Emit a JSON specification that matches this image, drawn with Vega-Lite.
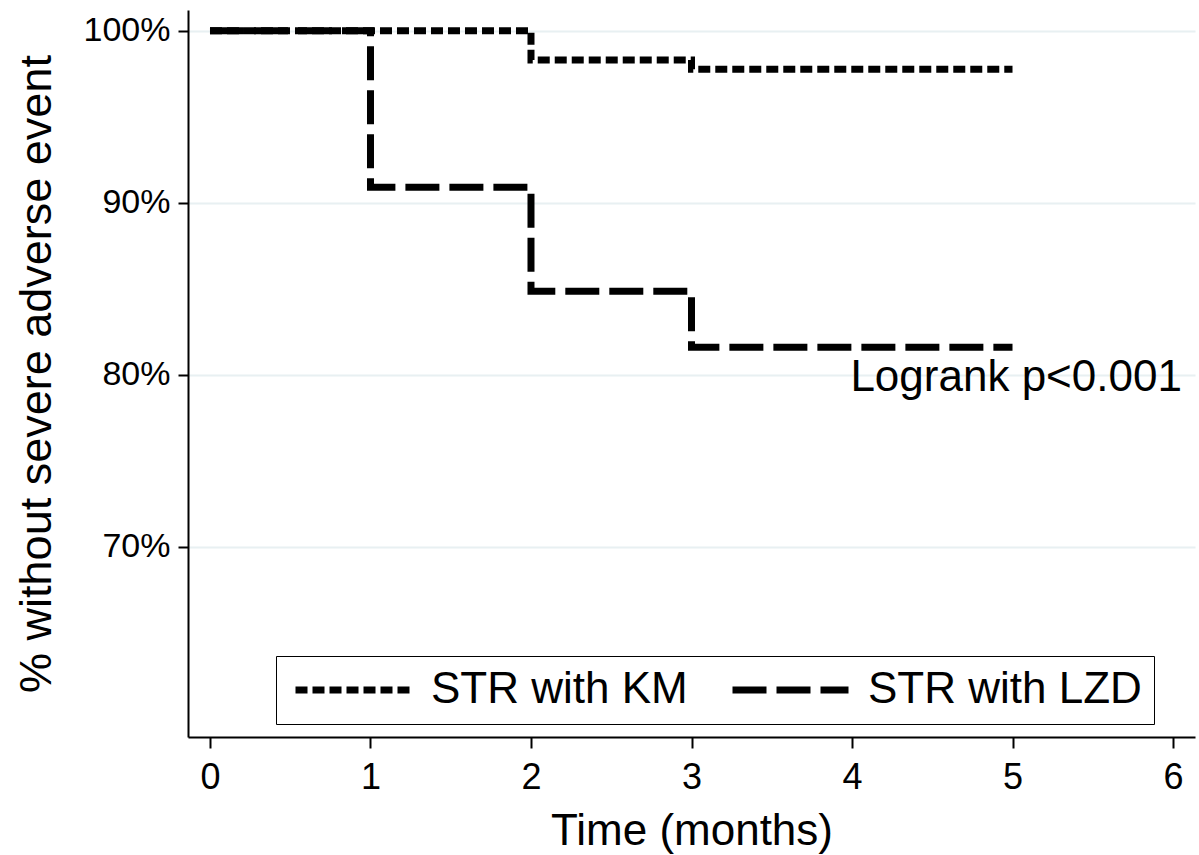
{
  "$schema": "https://vega.github.io/schema/vega-lite/v6.json",
  "width": 1007,
  "height": 727,
  "autosize": "none",
  "padding": {"left": 188, "top": 10, "right": 4, "bottom": 118},
  "background": "white",
  "config": {
    "font": "Liberation Sans",
    "view": {"stroke": null},
    "axis": {"domainColor": "black", "tickColor": "black", "labelColor": "black", "titleColor": "black", "titleFontWeight": "normal"}
  },
  "datasets": {
    "curves": [
      {"group": "STR with KM", "t": 0, "s": 100},
      {"group": "STR with KM", "t": 2, "s": 98.3},
      {"group": "STR with KM", "t": 3, "s": 97.75},
      {"group": "STR with KM", "t": 5, "s": 97.75},
      {"group": "STR with LZD", "t": 0, "s": 100},
      {"group": "STR with LZD", "t": 1, "s": 90.9},
      {"group": "STR with LZD", "t": 2, "s": 84.85},
      {"group": "STR with LZD", "t": 3, "s": 81.6},
      {"group": "STR with LZD", "t": 5, "s": 81.6}
    ],
    "notes": [
      {"t": 3.99, "s": 80, "label": "Logrank p<0.001"}
    ]
  },
  "layer": [
    {
      "data": {"name": "curves"},
      "mark": {"type": "line", "interpolate": "step-after", "color": "black", "strokeWidth": 7, "strokeCap": "butt", "clip": true},
      "encoding": {
        "x": {
          "field": "t", "type": "quantitative",
          "scale": {"domain": [-0.137, 6.137], "nice": false, "zero": false},
          "axis": {
            "title": "Time (months)", "titleFontSize": 44, "titlePadding": 14,
            "values": [0, 1, 2, 3, 4, 5, 6], "format": "d", "labelFontSize": 36, "labelPadding": 12,
            "tickSize": 11, "tickWidth": 2, "domainWidth": 2, "grid": false
          }
        },
        "y": {
          "field": "s", "type": "quantitative",
          "scale": {"domain": [58.95, 101.2], "nice": false, "zero": false},
          "axis": {
            "title": "% without severe adverse event", "titleFontSize": 45, "titlePadding": 24,
            "values": [70, 80, 90, 100], "labelExpr": "datum.value + '%'",
            "labelFontSize": 34, "labelPadding": 8, "tickSize": 10, "tickWidth": 2, "domainWidth": 2,
            "grid": true, "gridColor": "#e8f0f2", "gridWidth": 2
          }
        },
        "detail": {"field": "group"},
        "strokeDash": {
          "field": "group", "type": "nominal",
          "scale": {"domain": ["STR with KM", "STR with LZD"], "range": [[12, 5], [34, 10]]},
          "legend": {
            "title": null, "orient": "none", "legendX": 88, "legendY": 646,
            "direction": "horizontal", "columns": 2,
            "symbolType": "M-1,0H7", "symbolSize": 841, "symbolStrokeWidth": 7, "symbolStrokeColor": "black",
            "labelFontSize": 44, "labelColor": "black", "labelOffset": 99, "labelLimit": 500,
            "columnPadding": 30, "padding": 12, "strokeColor": "black", "fillColor": "white"
          }
        }
      }
    },
    {
      "data": {"name": "notes"},
      "mark": {"type": "text", "align": "left", "baseline": "middle", "fontSize": 44, "color": "black", "dy": 3},
      "encoding": {
        "x": {"field": "t", "type": "quantitative"},
        "y": {"field": "s", "type": "quantitative"},
        "text": {"field": "label"}
      }
    }
  ]
}
